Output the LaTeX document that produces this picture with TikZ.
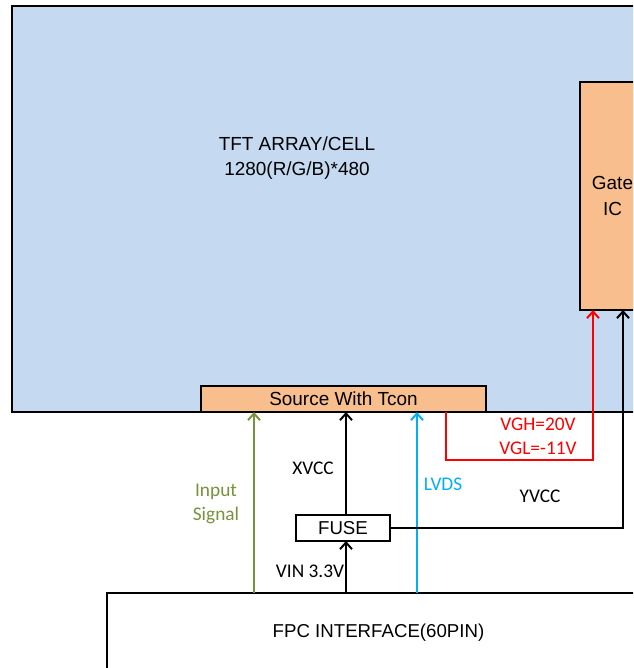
\documentclass[tikz,border=0pt]{standalone}
\usepackage{fontspec}
\setmainfont{Liberation Sans}
\newfontfamily\lblfont{Carlito}
\usetikzlibrary{positioning,arrows.meta}
\definecolor{panelblue}{HTML}{C5D9F0}
\definecolor{icorange}{HTML}{F8BE8E}
\definecolor{sigolive}{HTML}{76923C}
\definecolor{lvdsblue}{HTML}{00B0F0}
\definecolor{gatered}{HTML}{FF0000}

\begin{document}
\begin{tikzpicture}[
  x=0.75pt, y=-0.75pt,
  panelbox/.style={
    draw=black, line width=1.6pt, fill=panelblue,
    inner sep=0pt, outer sep=0pt,
  },
  icbox/.style={
    draw=black, line width=1.5pt, fill=icorange,
    inner sep=0pt, outer sep=0pt, align=center,
    font=\fontsize{14.2}{19.5}\selectfont,
  },
  plainbox/.style={
    draw=black, line width=1.5pt, fill=white,
    inner sep=0pt, outer sep=0pt, align=center,
    font=\fontsize{14}{19.5}\selectfont,
  },
  sig/.style={line width=1.5pt, -{Straight Barb[length=5pt,width=9pt]}},
  lbl/.style={font=\lblfont\fontsize{14.5}{17.5}\selectfont, align=center},
]

\useasboundingbox (0,0) rectangle (633,668);
\clip (0,0) rectangle (633,668);

% === TFT PANEL ===
\node[panelbox, anchor=north west, minimum width=478.5pt, minimum height=304.5pt]
  (tft) at (12,6) {};
\node[align=center, font=\fontsize{14.2}{18.75}\selectfont]
  (tfttxt) at (297,158) {TFT ARRAY/CELL\\1280(R/G/B)*480};

% === DRIVER ICs ===
\node[icbox, anchor=north west, minimum width=48.75pt, minimum height=171pt]
  (gate) at (580,82) {Gate\\IC};
\node[icbox, anchor=north west, minimum width=213.75pt, minimum height=19.5pt]
  (src) at (201,386) {Source With Tcon};

% === FPC AND FUSE ===
\node[plainbox, anchor=north west, minimum width=407.25pt, minimum height=59.25pt]
  (fpc) at (107,593) {FPC INTERFACE(60PIN)};
\node[plainbox, anchor=north west, minimum width=70.5pt, minimum height=19.5pt]
  (fuse) at (296,515) {FUSE};

% === SIGNAL COLUMNS ===
\coordinate (inx)   at (254,0);
\coordinate (vccx)  at (346,0);
\coordinate (lvdsx) at (417,0);
\coordinate (vglx)  at (446,0);
\coordinate (vghx)  at (593,0);
\coordinate (yvccx) at (623,0);
\coordinate (redy)  at (0,460);

% === CONNECTIONS ===
\draw[sig, sigolive] (fpc.north -| inx) -- (inx |- src.south);
\draw[sig] (fuse.north -| vccx) -- (vccx |- src.south);
\draw[sig] (fpc.north -| vccx) -- (vccx |- fuse.south);
\draw[sig, lvdsblue] (fpc.north -| lvdsx) -- (lvdsx |- src.south);
\draw[sig, gatered] (src.south -| vglx) |- (redy -| vghx) -- (vghx |- gate.south);
\draw[sig] (fuse.east) -| (yvccx |- gate.south);

% === LABELS ===
\node[lbl, text=sigolive] (inlbl) at (216,504) {Input\\Signal};
\node[lbl] (xvcclbl) at (313,468) {XVCC};
\node[lbl] (vinlbl) at (310,571) {VIN 3.3V};
\node[lbl, text=lvdsblue] (lvdslbl) at (443,484) {LVDS};
\node[lbl, text=gatered, font=\lblfont\fontsize{14.5}{18}\selectfont]
  (vgllbl) at (538,436) {VGH=20V\\VGL=-11V};
\node[lbl] (yvcclbl) at (540,496) {YVCC};

\end{tikzpicture}
\end{document}
